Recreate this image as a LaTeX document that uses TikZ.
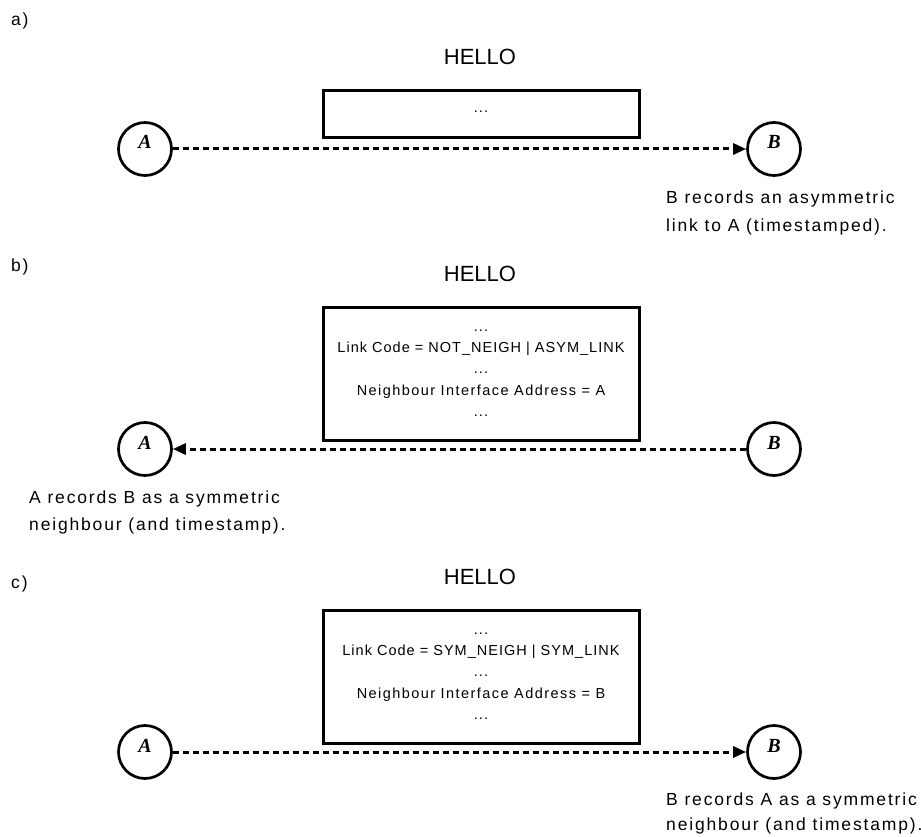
\documentclass[tikz,border=0pt]{standalone}
\usepackage{fontspec}
\setmainfont{Liberation Sans}
\newfontfamily\notefont[LetterSpace=10.5]{Liberation Sans}
\newfontfamily\fieldfont[LetterSpace=7]{Liberation Sans}
\newfontfamily\addrfont[LetterSpace=10]{Liberation Sans}
\newfontfamily\peerfont{Liberation Serif}
\usetikzlibrary{arrows.meta}

\begin{document}
\begin{tikzpicture}[x=1pt, y=-1pt,
  peer/.style={circle, draw, line width=2.7pt, minimum size=53pt, inner sep=0pt,
    text height=10pt, text depth=10pt,
    font=\peerfont\bfseries\itshape\fontsize{20}{20}\selectfont},
  msgbox/.style={draw, line width=3pt, inner sep=0pt, minimum width=316pt},
  title/.style={font=\fontsize{22}{22}\selectfont},
  note/.style={anchor=base west, inner sep=0pt, font=\notefont\fontsize{17.5}{20}\selectfont},
  panel/.style={anchor=base west, inner sep=0pt, font=\notefont\fontsize{17.5}{20}\selectfont},
  field/.style={anchor=base, inner sep=0pt, font=\fieldfont\fontsize{14.5}{16}\selectfont},
  addr/.style={field, font=\addrfont\fontsize{14.5}{16}\selectfont},
  msg/.style={line width=3pt, dash pattern=on 6pt off 4pt,
    -{Triangle[length=13pt,width=11pt]}},
]
\useasboundingbox (0,0) rectangle (921,837);

% ---------- a) A sends an empty HELLO ----------
\node[panel] (pa) at (11,26) {a)};
\node[title] (ha) at (480,57) {HELLO};
\node[msgbox, minimum height=47pt] (boxa) at (481,114) {};
\node[field] (fa1) at (481,113) {...};
\node[peer] (a1) at (145,149) {A};
\node[peer] (b1) at (774,149) {B};
\draw[msg] (a1) -- (b1);
\node[note] (na1) at (666,204) {B records an asymmetric};
\node[note] (na2) at (666,232) {link to A (timestamped).};

% ---------- b) B answers with its link state ----------
\node[panel] (pb) at (11,272) {b)};
\node[title] (hb) at (480,274) {HELLO};
\node[msgbox, minimum height=133pt] (boxb) at (481,374) {};
\node[field] (fb1) at (481,331) {...};
\node[field] (fb2) at (481,352) {Link Code = NOT\_NEIGH | ASYM\_LINK};
\node[field] (fb3) at (481,373) {...};
\node[addr]  (fb4) at (481,395) {Neighbour Interface Address = A};
\node[field] (fb5) at (481,416) {...};
\node[peer] (a2) at (145,449) {A};
\node[peer] (b2) at (774,449) {B};
\draw[msg] (b2) -- (a2);
\node[note] (nb1) at (29,503) {A records B as a symmetric};
\node[note] (nb2) at (29,530) {neighbour (and timestamp).};

% ---------- c) A confirms the symmetric link ----------
\node[panel] (pc) at (11,588) {c)};
\node[title] (hc) at (480,577) {HELLO};
\node[msgbox, minimum height=133pt] (boxc) at (481,677) {};
\node[field] (fc1) at (481,634) {...};
\node[field] (fc2) at (481,655) {Link Code = SYM\_NEIGH | SYM\_LINK};
\node[field] (fc3) at (481,676) {...};
\node[addr]  (fc4) at (481,698) {Neighbour Interface Address = B};
\node[field] (fc5) at (481,719) {...};
\node[peer] (a3) at (145,752) {A};
\node[peer] (b3) at (774,752) {B};
\draw[msg] (a3) -- (b3);
\node[note] (nc1) at (666,805) {B records A as a symmetric};
\node[note] (nc2) at (666,830) {neighbour (and timestamp).};
\end{tikzpicture}
\end{document}
